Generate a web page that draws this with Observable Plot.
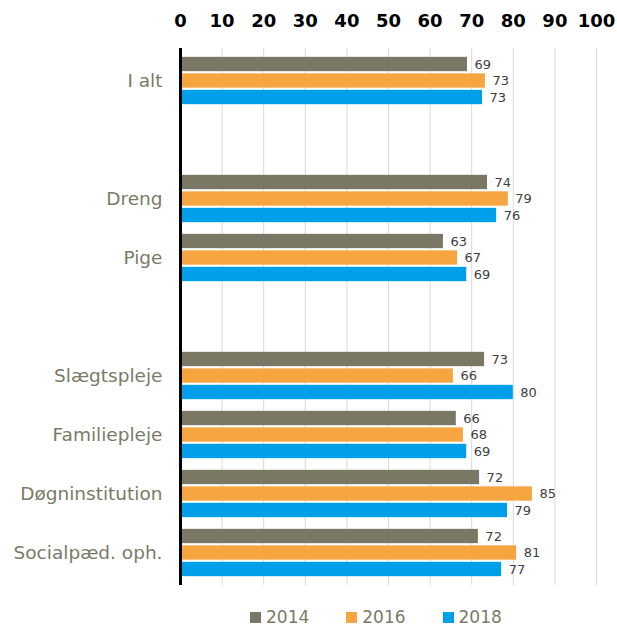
<!DOCTYPE html>
<html>
<head>
<meta charset="utf-8">
<script src="https://cdn.jsdelivr.net/npm/d3@7"></script>
<script src="https://cdn.jsdelivr.net/npm/@observablehq/plot@0.6"></script>
<style>
  html, body { margin: 0; padding: 0; background: #fff; }
  body { width: 617px; height: 627px; position: relative; overflow: hidden; font-family: "DejaVu Sans", Verdana, sans-serif; }
  #chart svg { font-family: "DejaVu Sans", Verdana, sans-serif; }
  #chart g[aria-label^="x-axis"] text { font-weight: bold; font-size: 18px; fill: #000; }
  #chart g[aria-label^="y-axis"] text { font-size: 18.5px; fill: #7b7a68; }
  #legend { position: absolute; left: 250px; top: 607px; height: 20px; line-height: 20px; display: flex; align-items: center; font-size: 17px; color: #7b7a68; }
  #legend .item { display: flex; align-items: center; margin-right: 37px; }
  #legend .sw { width: 11px; height: 11px; margin-right: 5px; }
</style>
</head>
<body>
<div id="chart"></div>
<div id="legend"></div>
<script>
const categories = ["I alt", "gap1", "Dreng", "Pige", "gap2", "Slægtspleje", "Familiepleje", "Døgninstitution", "Socialpæd. oph."];
const years = ["2014", "2016", "2018"];
const colors = ["#7a7865", "#f7a541", "#009fea"];
const values2014 = [69.0, null, 73.8, 63.2, null, 73.1, 66.3, 71.9, 71.6];
const values2016 = [73.3, null, 78.8, 66.6, null, 65.6, 68.0, 84.6, 80.8];
const values2018 = [72.6, null, 76.0, 68.8, null, 80.0, 68.8, 78.6, 77.2];
const xTicks = [0, 10, 20, 30, 40, 50, 60, 70, 80, 90, 100];

const series = [values2014, values2016, values2018];

const W = 617, H = 600, MT = 48, MB = 15, ML = 180, MR = 21;
const band = (H - MT - MB) / categories.length;   // band height per category
const barH = 15, step = 16.5;
const groupTop = (band - (2 * step + barH)) / 2;

const marks = [
  Plot.ruleX(xTicks.filter(d => d > 0), {stroke: "#d9d9d9", strokeWidth: 1})
];
years.forEach((yr, j) => {
  const rows = [];
  categories.forEach((c, i) => {
    const v = series[j][i];
    if (v != null) rows.push({category: c, year: yr, value: v});
  });
  const top = groupTop + j * step;
  marks.push(Plot.barX(rows, {
    x: "value", y: "category", fill: colors[j],
    insetTop: top, insetBottom: band - top - barH
  }));
  marks.push(Plot.text(rows, {
    x: "value", y: "category", text: d => String(Math.round(d.value)),
    dx: 7, dy: top + barH / 2 - band / 2, textAnchor: "start", fontSize: 13, fill: "#404040"
  }));
});
marks.push(Plot.ruleX([0], {stroke: "#000", strokeWidth: 3}));

const chart = Plot.plot({
  width: W,
  height: H,
  marginTop: MT,
  marginBottom: MB,
  marginLeft: ML,
  marginRight: MR,
  x: {domain: [0, 100], ticks: xTicks, axis: "top", tickSize: 0, tickPadding: 22, label: null},
  y: {domain: categories, padding: 0, axis: "left", tickSize: 0, tickPadding: 18, label: null,
      tickFormat: d => d.startsWith("gap") ? "" : d},
  marks
});
document.getElementById("chart").appendChild(chart);

const legend = document.getElementById("legend");
years.forEach((y, i) => {
  const item = document.createElement("div");
  item.className = "item";
  const sw = document.createElement("div");
  sw.className = "sw";
  sw.style.background = colors[i];
  const t = document.createElement("span");
  t.textContent = y;
  item.appendChild(sw);
  item.appendChild(t);
  legend.appendChild(item);
});
</script>
</body>
</html>
